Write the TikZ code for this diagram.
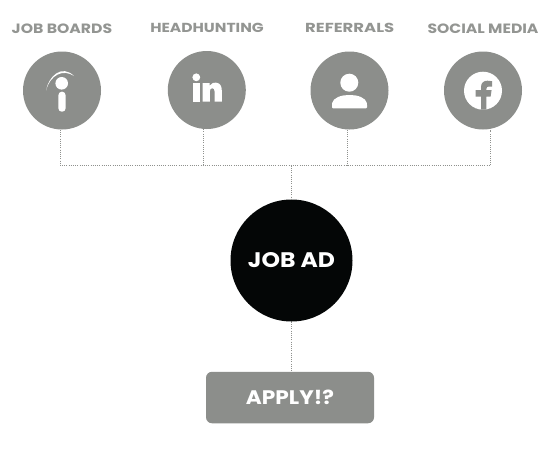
\documentclass[tikz,border=0pt]{standalone}
\usepackage{fontspec}
\setmainfont{Poppins}[BoldFont=* Bold]
\definecolor{iconGray}{HTML}{8C8E8B}
\definecolor{labelGray}{HTML}{939592}
\definecolor{dotGray}{HTML}{8F918E}
\definecolor{adBlack}{HTML}{040606}
\tikzset{
  x=1pt,y=-1pt,
  iconcircle/.style={circle,fill=iconGray,draw=none,minimum size=78pt,inner sep=0pt},
  toplabel/.style={text=labelGray,font=\bfseries\fontsize{12.5}{14}\selectfont,inner sep=0pt,anchor=center},
  conn/.style={draw=dotGray,line width=0.7pt,dash pattern=on 0.8pt off 1.4pt},
  glyph/.style={fill=white,draw=none},
}
\begin{document}
\begin{tikzpicture}
\useasboundingbox (0,0) rectangle (557,448);
\fill[white] (0,0) rectangle (557,448);
% labels
\node[toplabel] (l1) at (62,28.3) {\resizebox{100.5pt}{9.6pt}{JOB BOARDS}};
\node[toplabel] (l2) at (207,27.5) {\resizebox{113.5pt}{9.3pt}{HEADHUNTING}};
\node[toplabel] (l3) at (349.7,28.3) {\resizebox{89pt}{9.3pt}{REFERRALS}};
\node[toplabel] (l4) at (483,28.8) {\resizebox{111pt}{9.6pt}{SOCIAL MEDIA}};
% circles
\node[iconcircle] (c1) at (62,90.5) {};
\node[iconcircle] (c2) at (206.8,90) {};
\node[iconcircle] (c3) at (349.5,90.5) {};
\node[iconcircle] (c4) at (483,90.5) {};
\node[circle,fill=adBlack,minimum size=122pt,inner sep=0pt,text=white,font=\bfseries] (ad) at (291.5,260.5) {\resizebox{87pt}{15pt}{JOB AD}};
\node[rectangle,rounded corners=6pt,fill=iconGray,minimum width=168pt,minimum height=51.5pt,inner sep=0pt,text=white,font=\bfseries] (apply) at (290,397.5) {\resizebox{88pt}{14.5pt}{APPLY!?}};
% connectors
\coordinate (bus) at (291.3,165.7);
\coordinate (e1) at (60.5,165.7);
\coordinate (e2) at (203.3,165.7);
\coordinate (e3) at (347,165.7);
\coordinate (e4) at (490.3,165.7);
\path[conn] (e1 |- c1.south) -- (e1) -- (e4) -- (e4 |- c4.south);
\path[conn] (e2 |- c2.south) -- (e2);
\path[conn] (e3 |- c3.south) -- (e3);
\path[conn] (bus) -- (bus |- ad.north);
\path[conn] (bus |- ad.south) -- (bus |- apply.north);
% indeed glyph
\fill[glyph] (61.7,83.3) circle (6.3);
\fill[glyph,rounded corners=3.4pt] (58.4,91.7) rectangle (65.6,111.7);
\fill[glyph] (46,90.7) .. controls (48.5,76) and (62,64) .. (74,76) .. controls (63,68.5) and (50,75) .. cycle;
% linkedin glyph
\fill[glyph] (196.3,77.3) circle (3.9);
\fill[glyph] (192.7,83.3) rectangle (200,101.7);
\fill[glyph,even odd rule] (202.7,83) -- (209.7,83) -- (209.7,85.6) .. controls (211.5,83) and (214,82.4) .. (216,82.6) .. controls (220,83) and (221.8,86) .. (221.8,90.5) -- (221.8,101.7) -- (214.6,101.7) -- (214.6,91.5) .. controls (214.6,89.5) and (213.8,88.2) .. (212.2,88.2) .. controls (210.6,88.2) and (209.9,89.5) .. (209.9,91.5) -- (209.9,101.7) -- (202.7,101.7) -- cycle;
% person glyph
\fill[glyph] (349.3,82.7) circle (9);
\fill[glyph,rounded corners=1pt] (332,108.3) -- (332,104) .. controls (333,98) and (341,95) .. (349.5,95) .. controls (358,95) and (366,98) .. (367,104) -- (367,108.3) -- cycle;
% facebook glyph
\fill[glyph] (483,90.7) circle (19);
\begin{scope}
\clip (483,90.7) circle (19);
\fill[iconGray] (481,112) -- (481,96.7) -- (475.7,96.7) -- (475.7,90) -- (481,90) -- (481,87) .. controls (481,82.5) and (484,80.7) .. (487.5,80.7) -- (492.2,81.2) -- (492.2,86.5) -- (489,86.5) .. controls (487,86.5) and (486.4,87.3) .. (486.4,89) -- (486.4,90) -- (491.6,90) -- (490.6,96.7) -- (486.4,96.7) -- (486.4,112) -- cycle;
\end{scope}
\end{tikzpicture}
\end{document}
